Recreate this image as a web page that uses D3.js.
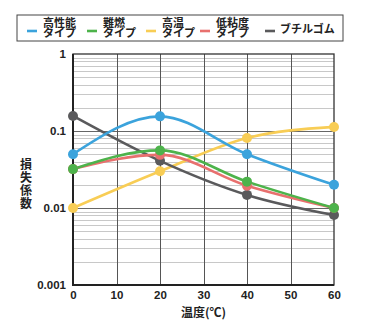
<!DOCTYPE html>
<html><head><meta charset="utf-8">
<script src="https://cdn.jsdelivr.net/npm/d3@7"></script>
<style>
body{margin:0;background:#fff;}
text{font-family:"Noto Sans CJK JP","Noto Sans",sans-serif;}
.num{font-family:"Liberation Sans","Noto Sans",sans-serif;}
</style></head>
<body><svg id="c" width="366" height="327"></svg>
<script>
const temps = [0, 20, 40, 60];
const seriesNames = [["高性能","タイプ"],["難燃","タイプ"],["高温","タイプ"],["低粘度","タイプ"],["ブチルゴム"]];
const seriesColors = ["#3ba3dc","#4db34b","#f8cd55","#e8706e","#5a5a5c"];
const highPerf = [0.05, 0.155, 0.05, 0.02];
const flameRet = [0.032, 0.056, 0.022, 0.010];
const highTemp = [0.010, 0.030, 0.081, 0.113];
const lowVisc = [0.032, 0.049, 0.0195, 0.010];
const butyl = [0.157, 0.041, 0.0148, 0.0081];
const xTicks = [0,10,20,30,40,50,60];
const yTicks = [0.001, 0.01, 0.1, 1];
const yTickLabels = ["0.001","0.01","0.1","1"];

const series = [highPerf, flameRet, highTemp, lowVisc, butyl];
const drawOrder = [2, 4, 3, 1, 0];

const svg = d3.select("#c");
const L=73, R=334, T=54, B=285;
const x = d3.scaleLinear().domain([0,60]).range([L,R]);
const y = d3.scaleLog().domain([0.001,1]).range([B,T]);

// minor grid
const minor=[];
for (let d of [0.001,0.01,0.1]) for (let k=2;k<=9;k++) minor.push(d*k);
svg.append("g").selectAll("line").data(minor).join("line")
  .attr("x1",L).attr("x2",R).attr("y1",d=>Math.round(y(d))+0.5).attr("y2",d=>Math.round(y(d))+0.5)
  .attr("stroke","#c8c8c8").attr("stroke-width",1);
svg.append("g").selectAll("line").data([0.01,0.1]).join("line")
  .attr("x1",L).attr("x2",R).attr("y1",d=>Math.round(y(d))+0.5).attr("y2",d=>Math.round(y(d))+0.5)
  .attr("stroke","#666").attr("stroke-width",1);
svg.append("g").selectAll("line").data(xTicks.slice(1,-1)).join("line")
  .attr("x1",d=>Math.round(x(d))+0.5).attr("x2",d=>Math.round(x(d))+0.5).attr("y1",T).attr("y2",B)
  .attr("stroke","#555").attr("stroke-width",1);
// frame
svg.append("rect").attr("x",L).attr("y",T).attr("width",R-L).attr("height",B-T)
  .attr("fill","none").attr("stroke","#333").attr("stroke-width",1.3);
svg.append("line").attr("x1",L).attr("x2",L).attr("y1",T).attr("y2",B+1).attr("stroke","#222").attr("stroke-width",2);
svg.append("line").attr("x1",L-1).attr("x2",R).attr("y1",B).attr("y2",B).attr("stroke","#222").attr("stroke-width",2);

// axes
const xa = svg.append("g").attr("transform",`translate(0,${B})`)
  .call(d3.axisBottom(x).tickValues(xTicks).tickSize(0).tickPadding(6));
xa.select(".domain").remove();
xa.selectAll("text").attr("class","num").attr("font-size",11.5).attr("fill","#222").attr("font-weight",700);
const ya = svg.append("g").attr("transform",`translate(${L},0)`)
  .call(d3.axisLeft(y).tickValues(yTicks).tickFormat((d,i)=>yTickLabels[i]).tickSize(0).tickPadding(7));
ya.select(".domain").remove();
ya.selectAll("text").attr("class","num").attr("font-size",11.5).attr("fill","#222").attr("font-weight",700);

svg.append("text").attr("x",(L+R)/2).attr("y",317).attr("text-anchor","middle")
  .attr("font-size",12).attr("font-weight",700).attr("fill","#222").text("温度(℃)");
svg.append("text").attr("x",26).attr("y",158)
  .style("writing-mode","vertical-rl").style("letter-spacing","1px")
  .attr("font-size",12).attr("font-weight",700).attr("fill","#222").text("損失係数");

// lines
const line = d3.line().x((d,i)=>x(temps[i])).y(d=>y(d)).curve(d3.curveMonotoneX);
for (const s of drawOrder) {
  svg.append("path").attr("d",line(series[s])).attr("fill","none")
    .attr("stroke",seriesColors[s]).attr("stroke-width",2.6);
}
for (const s of drawOrder) {
  svg.append("g").selectAll("circle").data(series[s]).join("circle")
    .attr("cx",(d,i)=>x(temps[i])).attr("cy",d=>y(d)).attr("r",5).attr("fill",seriesColors[s]);
}

// legend
svg.append("rect").attr("x",17).attr("y",15).attr("width",326).attr("height",26)
  .attr("fill","#fff").attr("stroke","#444").attr("stroke-width",1);
const legX = [27, 87, 146, 200, 265];
seriesNames.forEach((nm,i)=>{
  svg.append("line").attr("x1",legX[i]).attr("x2",legX[i]+10).attr("y1",31).attr("y2",31)
    .attr("stroke",seriesColors[i]).attr("stroke-width",2.6);
  const t = svg.append("text").attr("font-size",11).attr("font-weight",700).attr("fill","#222");
  if (nm.length===2){
    t.append("tspan").attr("x",legX[i]+16).attr("y",26.5).text(nm[0]);
    t.append("tspan").attr("x",legX[i]+16).attr("y",37).text(nm[1]);
  } else {
    t.attr("x",legX[i]+15).attr("y",32.5).text(nm[0]);
  }
});
</script></body></html>
